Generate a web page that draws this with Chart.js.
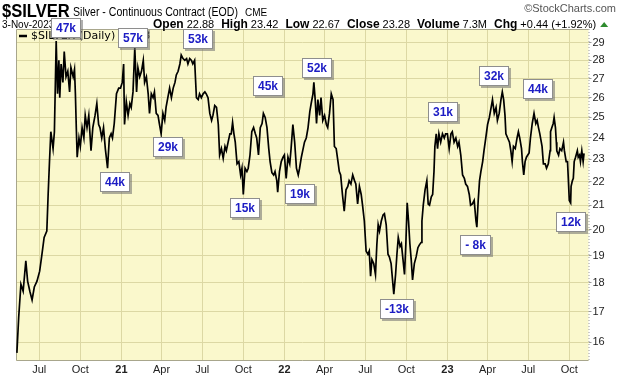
<!DOCTYPE html>
<html><head><meta charset="utf-8">
<script src="https://cdn.jsdelivr.net/npm/chart.js@4/dist/chart.umd.min.js"></script>
<style>html,body{margin:0;padding:0;background:#fff}#wrap{width:620px;height:376px;position:relative}</style>
</head><body><div id="wrap"><canvas id="c" width="620" height="376"></canvas></div>
<script>
// ---- data ----
const dates = [
'2020-05-12','2020-05-16','2020-05-21','2020-05-26','2020-06-01','2020-06-05','2020-06-10','2020-06-15','2020-06-20','2020-06-26',
'2020-07-02','2020-07-07','2020-07-12','2020-07-18','2020-07-21','2020-07-24','2020-07-27','2020-08-01','2020-08-04','2020-08-08',
'2020-08-11','2020-08-14','2020-08-16','2020-08-19','2020-08-23','2020-08-26','2020-08-30','2020-09-03','2020-09-07','2020-09-10',
'2020-09-15','2020-09-18','2020-09-20','2020-09-22','2020-09-24','2020-09-28','2020-10-01','2020-10-05','2020-10-09','2020-10-12',
'2020-10-16','2020-10-20','2020-10-25','2020-10-29','2020-11-03','2020-11-07','2020-11-11','2020-11-14','2020-11-18','2020-11-22',
'2020-11-26','2020-12-01','2020-12-05','2020-12-09','2020-12-12','2020-12-16','2020-12-21','2020-12-26','2020-12-30','2021-01-03',
'2021-01-06','2021-01-08','2021-01-12','2021-01-16','2021-01-20','2021-01-23','2021-01-27','2021-01-31','2021-02-04','2021-02-07',
'2021-02-11','2021-02-15','2021-02-19','2021-02-22','2021-02-26','2021-03-02','2021-03-05','2021-03-09','2021-03-13','2021-03-16',
'2021-03-20','2021-03-24','2021-03-27','2021-03-31','2021-04-04','2021-04-08','2021-04-11','2021-04-15','2021-04-19','2021-04-23',
'2021-04-27','2021-05-01','2021-05-04','2021-05-08','2021-05-12','2021-05-15','2021-05-19','2021-05-23','2021-05-27','2021-05-30',
'2021-06-03','2021-06-07','2021-06-10','2021-06-14','2021-06-18','2021-06-22','2021-06-25','2021-06-29','2021-07-03','2021-07-07',
'2021-07-10','2021-07-14','2021-07-18','2021-07-22','2021-07-25','2021-07-29','2021-08-02','2021-08-06','2021-08-09','2021-08-13',
'2021-08-17','2021-08-21','2021-08-24','2021-08-28','2021-09-01','2021-09-04','2021-09-07','2021-09-10','2021-09-13','2021-09-17',
'2021-09-21','2021-09-25','2021-09-28','2021-10-01','2021-10-05','2021-10-09','2021-10-12','2021-10-16','2021-10-20','2021-10-24',
'2021-10-28','2021-10-31','2021-11-04','2021-11-08','2021-11-12','2021-11-15','2021-11-19','2021-11-23','2021-11-27','2021-11-30',
'2021-12-04','2021-12-08','2021-12-11','2021-12-15','2021-12-17','2021-12-21','2021-12-25','2021-12-29','2022-01-01','2022-01-05',
'2022-01-09','2022-01-13','2022-01-16','2022-01-20','2022-01-24','2022-01-28','2022-02-01','2022-02-04','2022-02-08','2022-02-12',
'2022-02-15','2022-02-19','2022-02-23','2022-02-27','2022-03-02','2022-03-06','2022-03-08','2022-03-11','2022-03-14','2022-03-17',
'2022-03-21','2022-03-24','2022-03-28','2022-04-01','2022-04-05','2022-04-08','2022-04-12','2022-04-16','2022-04-20','2022-04-23',
'2022-04-27','2022-05-01','2022-05-04','2022-05-07','2022-05-11','2022-05-15','2022-05-19','2022-05-23','2022-05-26','2022-05-30',
'2022-06-03','2022-06-07','2022-06-10','2022-06-14','2022-06-18','2022-06-22','2022-06-25','2022-06-29','2022-07-03','2022-07-07',
'2022-07-10','2022-07-13','2022-07-16','2022-07-20','2022-07-24','2022-07-27','2022-07-30','2022-08-02','2022-08-06','2022-08-10',
'2022-08-13','2022-08-17','2022-08-21','2022-08-24','2022-08-28','2022-09-01','2022-09-03','2022-09-07','2022-09-10','2022-09-13',
'2022-09-17','2022-09-20','2022-09-23','2022-09-27','2022-09-30','2022-10-03','2022-10-06','2022-10-09','2022-10-12','2022-10-15',
'2022-10-19','2022-10-23','2022-10-27','2022-10-30','2022-11-03','2022-11-05','2022-11-08','2022-11-12','2022-11-16','2022-11-19',
'2022-11-22','2022-11-26','2022-11-29','2022-12-02','2022-12-04','2022-12-07','2022-12-10','2022-12-13','2022-12-17','2022-12-21',
'2022-12-25','2022-12-28','2023-01-01','2023-01-05','2023-01-09','2023-01-12','2023-01-16','2023-01-20','2023-01-24','2023-01-27',
'2023-01-31','2023-02-04','2023-02-08','2023-02-11','2023-02-15','2023-02-19','2023-02-22','2023-02-26','2023-03-02','2023-03-06',
'2023-03-08','2023-03-11','2023-03-14','2023-03-17','2023-03-21','2023-03-24','2023-03-28','2023-04-01','2023-04-05','2023-04-09',
'2023-04-12','2023-04-16','2023-04-20','2023-04-23','2023-04-27','2023-05-01','2023-05-04','2023-05-07','2023-05-10','2023-05-12',
'2023-05-16','2023-05-20','2023-05-23','2023-05-26','2023-05-29','2023-06-02','2023-06-06','2023-06-09','2023-06-12','2023-06-16',
'2023-06-18','2023-06-21','2023-06-24','2023-06-27','2023-06-30','2023-07-03','2023-07-06','2023-07-10','2023-07-14','2023-07-18',
'2023-07-21','2023-07-24','2023-07-27','2023-08-01','2023-08-04','2023-08-08','2023-08-11','2023-08-15','2023-08-19','2023-08-20',
'2023-08-23','2023-08-26','2023-08-28','2023-08-31','2023-09-02','2023-09-03','2023-09-07','2023-09-10','2023-09-14','2023-09-18',
'2023-09-20','2023-09-24','2023-09-27','2023-09-29','2023-10-01','2023-10-04','2023-10-05','2023-10-08','2023-10-10','2023-10-12',
'2023-10-15','2023-10-19','2023-10-21','2023-10-24','2023-10-26','2023-10-29','2023-11-01','2023-11-03'
];
const closes = [
15.66,16.8,17.95,17.7,18.8,18.06,17.7,17.4,17.85,18.06,
18.42,19.04,19.7,19.95,21.46,22.9,24.3,23.5,24.3,29.1,
26.2,28.0,26.0,27.8,26.8,28.5,27.1,27.4,26.3,27.6,
27.1,27.5,26.2,24.5,23.1,24.0,23.6,24.5,24.0,25.1,
24.5,25.1,23.4,24.5,25.1,25.7,24.65,24.5,24.0,24.5,
23.5,22.6,24.0,24.2,24.0,24.7,26.2,26.5,26.5,26.8,
27.8,24.65,25.8,25.1,25.7,25.5,26.3,28.7,26.3,27.6,
27.1,27.4,28.0,26.8,27.1,26.2,25.2,26.2,26.0,26.3,
25.2,25.1,24.7,24.2,25.2,24.85,25.5,26.0,26.5,26.0,
26.5,26.8,27.2,27.4,27.8,28.3,28.1,28.0,28.1,27.8,
28.1,28.0,27.8,28.0,26.0,25.9,26.2,26.0,26.2,26.3,
26.2,26.0,25.2,24.85,25.1,25.6,25.5,24.65,23.2,23.5,
23.05,23.6,23.4,23.8,24.2,24.2,24.75,24.2,23.8,22.8,
22.9,22.3,22.6,21.45,22.6,22.45,22.6,23.2,24.3,24.5,
24.2,24.0,23.2,24.5,24.7,25.2,25.0,24.5,23.5,22.9,
22.4,22.3,22.45,22.05,21.55,22.45,22.9,23.1,23.2,22.15,
23.1,22.8,23.5,24.65,23.8,22.6,22.3,22.6,23.1,23.5,
23.8,24.0,24.5,25.3,25.7,26.2,26.8,25.9,24.7,25.9,
25.1,26.0,24.85,25.1,24.65,24.5,25.2,26.2,25.9,23.6,
23.5,22.9,22.45,22.3,21.45,20.75,21.65,21.8,22.05,21.9,
22.3,22.05,21.9,21.05,21.8,21.45,21.0,20.35,19.17,19.05,
19.17,18.24,18.85,18.7,18.3,19.4,20.2,19.95,20.35,20.6,
20.65,20.2,19.05,18.95,18.7,17.95,17.6,18.3,19.05,19.7,
19.35,19.45,18.95,18.3,19.45,21.1,20.35,19.45,18.85,18.1,
18.7,18.95,19.3,19.4,19.5,20.35,21.0,21.65,22.05,21.05,
21.0,21.35,21.45,22.45,23.6,24.2,23.5,24.2,23.8,24.2,
24.0,24.2,24.2,23.5,24.2,24.3,23.8,24.0,23.6,23.8,
23.2,22.3,22.15,21.9,21.8,21.45,21.0,21.05,21.2,20.35,
20.1,21.2,22.05,22.45,22.9,23.4,24.0,24.65,25.0,25.5,
25.9,25.2,25.5,24.85,25.2,25.9,26.3,25.9,25.1,24.2,
24.0,23.8,23.4,22.9,23.6,23.5,24.0,24.3,24.0,23.5,
22.9,22.3,22.9,23.1,23.2,23.3,24.0,24.7,25.2,24.7,
24.85,24.5,24.2,23.6,22.8,22.8,22.6,22.8,23.4,24.3,
24.5,24.7,25.0,24.5,23.8,23.4,23.2,23.5,23.4,23.8,
23.4,22.9,22.9,22.05,21.2,21.1,21.8,22.05,22.15,22.9,
23.1,23.4,23.1,23.2,22.9,23.4,22.9,23.28
];
const yTicks = [16,17,18,19,20,21,22,23,24,25,26,27,28,29];
const xTickDates = ['2020-07-01','2020-10-01','2021-01-01','2021-04-01','2021-07-01','2021-10-01','2022-01-01','2022-04-01','2022-07-01','2022-10-01','2023-01-01','2023-04-01','2023-07-01','2023-10-01'];
const xTickLabels = ['Jul','Oct','21','Apr','Jul','Oct','22','Apr','Jul','Oct','23','Apr','Jul','Oct'];
const xRange = ['2020-05-10','2023-11-13'];
const yRange = [15.41, 29.8];
const noteLabels = ['47k','57k','53k','29k','44k','15k','45k','19k','52k','-13k','31k','- 8k','32k','44k','12k'];
const noteDates = ['2020-08-29','2021-01-26','2021-06-21','2021-04-15','2020-12-17','2021-10-04','2021-11-25','2022-02-05','2022-03-15','2022-09-10','2022-12-22','2023-03-06','2023-04-16','2023-07-23','2023-10-05'];
const noteValues = [29.88,29.29,29.23,23.59,22.0,20.9,26.62,21.48,27.59,17.1,25.28,19.41,27.16,26.47,20.32];
const symbol = '$SILVER';
const title = 'Silver - Continuous Contract (EOD)';
const exchange = 'CME';
const lastDate = '3-Nov-2023';
const quoteLabels = ['Open','High','Low','Close','Volume','Chg'];
const quoteValues = ['22.88','23.42','22.67','23.28','7.3M','+0.44 (+1.92%)'];
const legendText = '$SILVER (Daily) 23.28';

// ---- helpers ----
const T0 = Date.parse('2021-01-01');
const day = s => (Date.parse(s) - T0) / 86400000;
const SANS = '"Liberation Sans", Arial, sans-serif';

const framePlugin = {
  id: 'frame',
  beforeDraw(chart) {
    const {ctx, chartArea: a} = chart;
    ctx.save();
    ctx.fillStyle = '#FAF8CC';
    ctx.fillRect(a.left, a.top, a.right - a.left, a.bottom - a.top);
    ctx.restore();
  },
  beforeDatasetsDraw(chart) {
    const {ctx, chartArea: a} = chart;
    ctx.save();
    ctx.strokeStyle = '#A8A68C';
    ctx.lineWidth = 1;
    ctx.beginPath();
    ctx.moveTo(a.right, a.top + 0.5); ctx.lineTo(a.left + 0.5, a.top + 0.5);
    ctx.lineTo(a.left + 0.5, a.bottom - 0.5); ctx.lineTo(a.right, a.bottom - 0.5);
    ctx.stroke();
    ctx.setLineDash([1, 2]);
    ctx.strokeStyle = '#999';
    ctx.beginPath();
    ctx.moveTo(a.right + 0.5, a.top); ctx.lineTo(a.right + 0.5, a.bottom);
    ctx.stroke();
    ctx.restore();
  },
  afterDraw(chart) {
    const {ctx, chartArea: a, scales} = chart;
    ctx.save();
    // header line 1
    ctx.textBaseline = 'alphabetic';
    ctx.textAlign = 'left';
    ctx.fillStyle = '#000';
    ctx.font = 'bold 18px ' + SANS;
    ctx.save(); ctx.translate(2, 17); ctx.scale(0.92, 1); ctx.fillText(symbol, 0, 0); ctx.restore();
    ctx.font = '12px ' + SANS;
    ctx.save(); ctx.translate(73, 16); ctx.scale(0.88, 1); ctx.fillText(title, 0, 0); ctx.restore();
    ctx.font = '10px ' + SANS;
    ctx.fillText(exchange, 245, 16);
    ctx.fillStyle = '#555';
    ctx.font = '11px ' + SANS;
    ctx.textAlign = 'right';
    ctx.fillText('\u00A9StockCharts.com', 616, 12);
    // header line 2
    ctx.textAlign = 'left';
    ctx.fillStyle = '#000';
    ctx.font = '10px ' + SANS;
    ctx.fillText(lastDate, 2, 28);
    let x = 153;
    for (let i = 0; i < quoteLabels.length; i++) {
      ctx.font = 'bold 12px ' + SANS;
      ctx.fillText(quoteLabels[i], x, 28);
      x += ctx.measureText(quoteLabels[i]).width + 3;
      ctx.font = '11px ' + SANS;
      ctx.fillText(quoteValues[i], x, 28);
      x += ctx.measureText(quoteValues[i]).width + 7;
    }
    ctx.fillStyle = '#2E8B2E';
    ctx.beginPath();
    ctx.moveTo(x - 3, 27); ctx.lineTo(x + 5, 27); ctx.lineTo(x + 1, 22); ctx.closePath(); ctx.fill();
    // legend
    ctx.strokeStyle = '#000'; ctx.lineWidth = 2.5;
    ctx.beginPath(); ctx.moveTo(a.left + 3, 36); ctx.lineTo(a.left + 11, 36); ctx.stroke();
    ctx.fillStyle = '#000';
    ctx.font = '11px "DejaVu Sans", Verdana, sans-serif';
    ctx.textBaseline = 'middle';
    ctx.fillText(legendText, a.left + 15, 36);
    // annotation boxes
    const xs = scales.x, ys = scales.y;
    ctx.font = 'bold 12px ' + SANS;
    for (let i = 0; i < noteLabels.length; i++) {
      const px = xs.getPixelForValue(day(noteDates[i]));
      const py = ys.getPixelForValue(noteValues[i]);
      const tw = ctx.measureText(noteLabels[i]).width;
      const w = Math.round(tw + 10), h = 20;
      const bx = Math.round(px - w / 2), by = Math.round(py - h / 2);
      ctx.fillStyle = 'rgba(110,110,110,0.55)';
      ctx.fillRect(bx + 2, by + 2, w, h);
      ctx.fillStyle = '#fff';
      ctx.fillRect(bx, by, w, h);
      ctx.strokeStyle = '#8E8E8E'; ctx.lineWidth = 1;
      ctx.strokeRect(bx + 0.5, by + 0.5, w - 1, h - 1);
      ctx.fillStyle = '#1C1CC4';
      ctx.textAlign = 'center'; ctx.textBaseline = 'middle';
      ctx.fillText(noteLabels[i], bx + w / 2, by + h / 2 + 1);
    }
    ctx.restore();
  }
};

new Chart(document.getElementById('c'), {
  type: 'line',
  data: {
    datasets: [{
      data: dates.map((d, i) => ({x: day(d), y: closes[i]})),
      borderColor: '#000',
      borderWidth: 1.7,
      pointRadius: 0,
      tension: 0,
      fill: false
    }]
  },
  options: {
    responsive: false,
    animation: false,
    devicePixelRatio: 1,
    layout: {padding: {left: 16, top: 29, right: 0, bottom: 0}},
    plugins: {legend: {display: false}, tooltip: {enabled: false}},
    scales: {
      x: {
        type: 'linear',
        min: day(xRange[0]), max: day(xRange[1]),
        afterBuildTicks: s => { s.ticks = xTickDates.map(d => ({value: day(d)})); },
        afterFit: s => { s.height = 15; },
        grid: {color: '#DCD8A4', lineWidth: 1, drawTicks: false},
        border: {display: false},
        ticks: {
          autoSkip: false, maxRotation: 0, padding: 2, color: '#222',
          callback: (v, i) => xTickLabels[i],
          font: ctx => ({family: SANS, size: 11, weight: /^\d+$/.test(xTickLabels[ctx.index] || '') ? 'bold' : 'normal'})
        }
      },
      y: {
        type: 'logarithmic',
        position: 'right',
        min: yRange[0], max: yRange[1],
        afterBuildTicks: s => { s.ticks = yTicks.map(v => ({value: v})); },
        afterFit: s => { s.width = 31.5; },
        grid: {color: '#DCD8A4', lineWidth: 1, drawTicks: true, tickLength: 3, tickColor: '#999'},
        border: {display: false},
        ticks: {
          autoSkip: false, padding: 1, color: '#222',
          font: {family: SANS, size: 11},
          callback: v => String(v)
        }
      }
    }
  },
  plugins: [framePlugin]
});
</script>
</body></html>
